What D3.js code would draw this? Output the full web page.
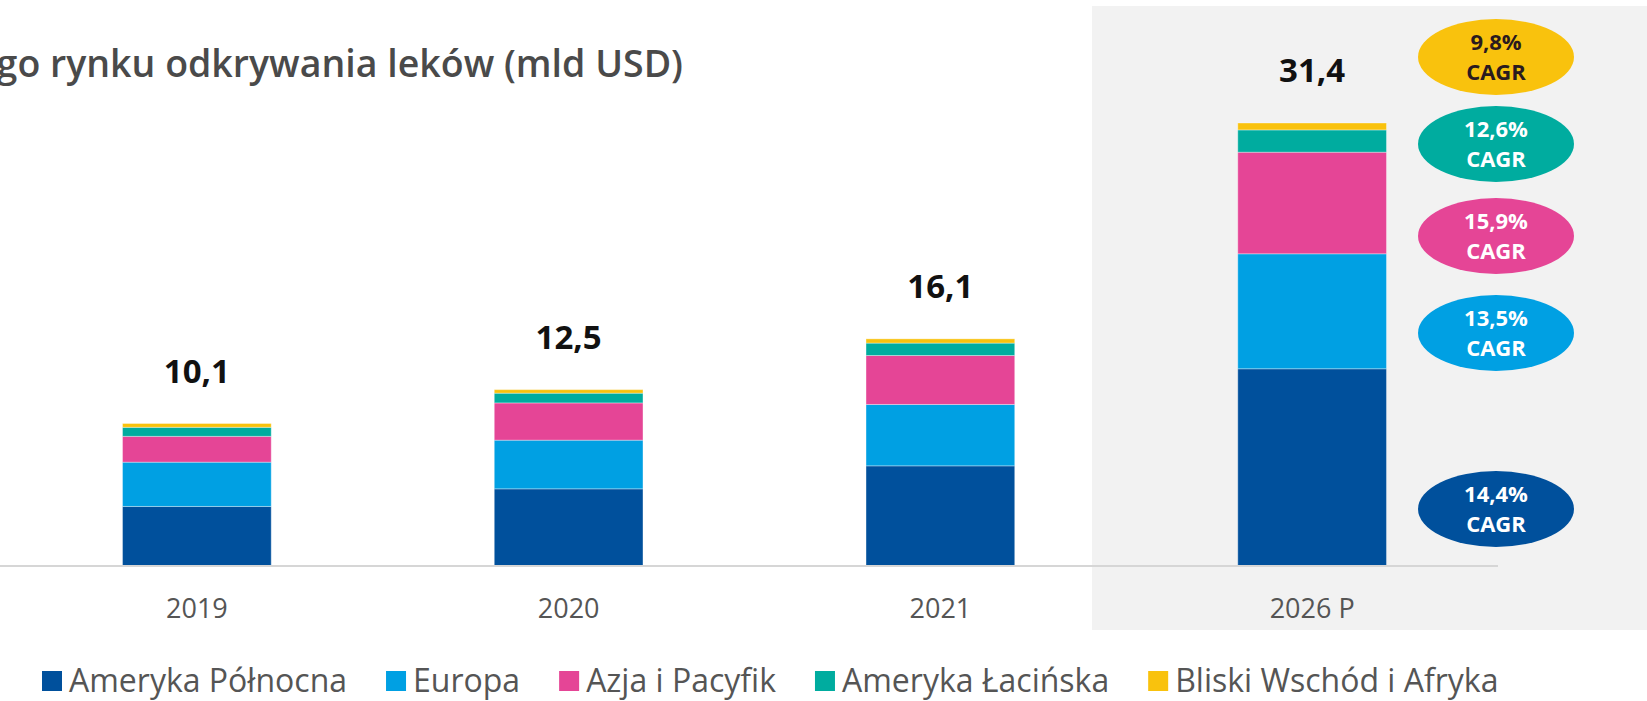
<!DOCTYPE html>
<html>
<head>
<meta charset="utf-8">
<script src="https://cdn.jsdelivr.net/npm/d3@7"></script>
<style>
  body { margin: 0; background: #fff; }
  svg { display: block; font-family: 'Open Sans', sans-serif; }
</style>
</head>
<body>
<div class="canvas"></div>
<script>
// data
const years = ['2019', '2020', '2021', '2026 P'];
const regions = ['Ameryka Północna', 'Europa', 'Azja i Pacyfik', 'Ameryka Łacińska', 'Bliski Wschód i Afryka'];
const northAmerica = [4.22, 5.47, 7.10, 13.98];
const europe = [3.14, 3.45, 4.35, 8.15];
const asiaPacific = [1.83, 2.64, 3.47, 7.20];
const latinAmerica = [0.64, 0.69, 0.88, 1.58];
const middleEastAfrica = [0.27, 0.25, 0.30, 0.49];
const totalLabels = ['10,1', '12,5', '16,1', '31,4'];
const cagrLabels = ['14,4%', '13,5%', '15,9%', '12,6%', '9,8%'];

const colors = ['#00509c', '#00a0e3', '#e54596', '#00ac9f', '#f9c20d'];

const width = 1647;
const height = 701;

const svg = d3.select('.canvas')
  .append('svg')
  .attr('width', width)
  .attr('height', height);

// forecast background panel
svg.append('rect')
  .attr('x', 1092)
  .attr('y', 6)
  .attr('width', width - 1092)
  .attr('height', 624)
  .attr('fill', '#f2f2f2');

// title (cut off on the left like the source)
svg.append('text')
  .attr('x', 683)
  .attr('y', 77)
  .attr('text-anchor', 'end')
  .attr('font-size', 37.5)
  .attr('font-weight', 600)
  .attr('fill', '#4a4a4a')
  .text('go rynku odkrywania leków (mld USD)');

// build rows for the stack
const series = [northAmerica, europe, asiaPacific, latinAmerica, middleEastAfrica];
const rows = years.map((yr, i) => {
  const row = { year: yr };
  regions.forEach((r, j) => row[r] = series[j][i]);
  return row;
});
const stacked = d3.stack().keys(regions)(rows);

const baseY = 566;
const x = d3.scaleBand()
  .domain(years)
  .range([11, 1498])
  .paddingInner(0.6)
  .paddingOuter(0.3);

const totals = rows.map(r => d3.sum(regions, k => r[k]));
const y = d3.scaleLinear()
  .domain([0, d3.max(totals)])
  .range([baseY, 123]);

const graph = svg.append('g');

graph.selectAll('g.layer')
  .data(stacked)
  .enter()
  .append('g')
  .attr('class', 'layer')
  .attr('fill', (d, i) => colors[i])
  .selectAll('rect')
  .data(d => d)
  .enter()
  .append('rect')
  .attr('x', d => x(d.data.year))
  .attr('width', x.bandwidth())
  .attr('y', d => y(d[1]))
  .attr('height', d => y(d[0]) - y(d[1]))
  .attr('stroke', 'rgba(255,255,255,0.35)')
  .attr('stroke-width', 1);

// total labels
graph.selectAll('text.total')
  .data(rows)
  .enter()
  .append('text')
  .attr('class', 'total')
  .attr('x', d => x(d.year) + x.bandwidth() / 2)
  .attr('y', (d, i) => y(totals[i]) - 41)
  .attr('text-anchor', 'middle')
  .attr('font-size', 33)
  .attr('font-weight', 700)
  .attr('fill', '#111')
  .text((d, i) => totalLabels[i]);

// x axis
const xAxisGroup = svg.append('g')
  .attr('transform', `translate(0, ${baseY})`)
  .call(d3.axisBottom(x).tickSize(0).tickPadding(33));

xAxisGroup.select('.domain')
  .attr('d', 'M0,0H1498')
  .attr('stroke', '#d6d6d6')
  .attr('stroke-width', 2);

xAxisGroup.selectAll('text')
  .attr('font-family', 'Open Sans, sans-serif')
  .attr('font-size', 27)
  .attr('fill', '#555');

// CAGR bubbles (series order, bottom to top)
const bubbleY = [509, 333, 236, 144, 57];
const bubbles = svg.append('g')
  .selectAll('g')
  .data(cagrLabels)
  .enter()
  .append('g')
  .attr('transform', (d, i) => `translate(1496, ${bubbleY[i]})`);

bubbles.append('ellipse')
  .attr('rx', 78)
  .attr('ry', 38)
  .attr('fill', (d, i) => colors[i]);

const bubbleText = bubbles.append('text')
  .attr('text-anchor', 'middle')
  .attr('font-size', 22)
  .attr('font-weight', 700)
  .attr('fill', (d, i) => i === 4 ? '#2a1a1f' : '#fff');

bubbleText.append('tspan')
  .attr('x', 0)
  .attr('y', -7)
  .text(d => d);

bubbleText.append('tspan')
  .attr('x', 0)
  .attr('y', 23)
  .text('CAGR');

// legend
const legend = svg.append('g');
let lx = 42;
regions.forEach((r, i) => {
  legend.append('rect')
    .attr('x', lx)
    .attr('y', 671)
    .attr('width', 20)
    .attr('height', 20)
    .attr('fill', colors[i]);
  const t = legend.append('text')
    .attr('x', lx + 27)
    .attr('y', 692)
    .attr('font-size', 32)
    .attr('fill', '#555')
    .text(r);
  lx += 27 + t.node().getComputedTextLength() + 39;
});
</script>
</body>
</html>
